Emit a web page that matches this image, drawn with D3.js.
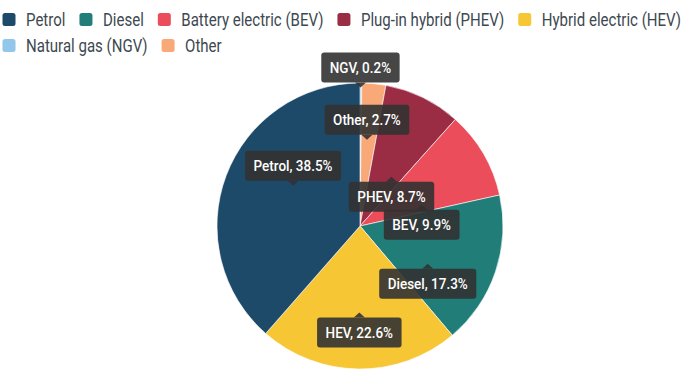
<!DOCTYPE html>
<html>
<head>
<meta charset="utf-8">
<script src="https://cdn.jsdelivr.net/npm/d3@7"></script>
<style>
  html, body { margin: 0; padding: 0; background: #fff; }
  svg { display: block; }
</style>
</head>
<body>
<svg id="chart" width="699" height="375"></svg>
<script>
// ---- data ----
const categories = ["Petrol", "Diesel", "Battery electric (BEV)", "Plug-in hybrid (PHEV)", "Hybrid electric (HEV)", "Natural gas (NGV)", "Other"];
const shortLabels = ["Petrol", "Diesel", "BEV", "PHEV", "HEV", "NGV", "Other"];
const shares = [38.5, 17.3, 9.9, 8.7, 22.6, 0.2, 2.7];
const colors = ["#1e4a6a", "#217d78", "#eb4d5a", "#9a2c44", "#f7c634", "#92c6ea", "#f9a878"];
// order of slices clockwise from 12 o'clock
const pieOrder = [5, 6, 3, 2, 1, 4, 0];
// label box placement relative to slice centroid
const labelAbove = ["Petrol", "NGV", "Other"];
const labelExtraShift = { "NGV": -52 };

const svg = d3.select("#chart");
const cx = 360, cy = 226, R = 143;
const LEGEND_SCALE = 0.835;
const LABEL_SCALE = 0.87;

// ---- legend ----
const legend = svg.append("g").attr("class", "legend");
const rows = [[0, 1, 2, 3, 4], [5, 6]];
const rowY = [19.5, 45.5];
rows.forEach((row, ri) => {
  let x = 2.5;
  row.forEach(i => {
    const g = legend.append("g");
    g.append("rect")
      .attr("x", x).attr("y", rowY[ri] - 6.5)
      .attr("width", 13).attr("height", 13)
      .attr("rx", 2.5)
      .attr("fill", colors[i]);
    const tx = x + 23.5;
    const t = g.append("text")
      .attr("transform", `translate(${tx},${rowY[ri]}) scale(${LEGEND_SCALE},1)`)
      .attr("dy", "0.36em")
      .attr("font-family", "Roboto, sans-serif")
      .attr("font-size", 18)
      .attr("fill", "#3d4850")
      .text(categories[i]);
    const w = t.node().getComputedTextLength() * LEGEND_SCALE;
    x = tx + w + 14;
  });
});

// ---- pie ----
const pieData = pieOrder.map(i => ({ idx: i, value: shares[i] }));
const pie = d3.pie().sort(null).value(d => d.value).startAngle(0).endAngle(2 * Math.PI);
const arcs = pie(pieData);
const arc = d3.arc().innerRadius(0).outerRadius(R);

const gPie = svg.append("g").attr("transform", `translate(${cx},${cy})`);
gPie.selectAll("path")
  .data(arcs)
  .join("path")
  .attr("d", arc)
  .attr("fill", d => colors[d.data.idx])
  .attr("stroke", "#fff")
  .attr("stroke-width", 0.6);

// ---- labels ----
const gLab = svg.append("g").attr("transform", `translate(${cx},${cy})`);
arcs.forEach(a => {
  const i = a.data.idx;
  const name = shortLabels[i];
  const [px, py0] = arc.centroid(a);
  const above = labelAbove.includes(name);
  const extra = labelExtraShift[name] || 0;
  const py = py0 + extra;
  const g = gLab.append("g");
  const text = `${name}, ${d3.format(".1f")(shares[i])}%`;
  const bh = 30, gap = 15, ph = 5, pw = 11;
  const boxTop = above ? py - gap - ph - bh : py + gap + ph;
  const t = g.append("text")
    .attr("font-family", "Roboto, sans-serif")
    .attr("font-size", 15.5)
    .attr("font-weight", 500)
    .attr("fill", "#fff")
    .attr("dy", "0.36em")
    .text(text);
  const tw = t.node().getComputedTextLength() * LABEL_SCALE;
  const bw = tw + 17;
  const bx = px - bw / 2;
  const tipY = above ? py - gap : py + gap;
  const baseY = above ? boxTop + bh : boxTop;
  g.insert("path", "text")
    .attr("d", `M${bx + 3},${boxTop} H${bx + bw - 3} Q${bx + bw},${boxTop} ${bx + bw},${boxTop + 3} V${boxTop + bh - 3} Q${bx + bw},${boxTop + bh} ${bx + bw - 3},${boxTop + bh} H${bx + 3} Q${bx},${boxTop + bh} ${bx},${boxTop + bh - 3} V${boxTop + 3} Q${bx},${boxTop} ${bx + 3},${boxTop} Z`)
    .attr("fill", "rgba(50,50,50,0.9)");
  g.insert("path", "text")
    .attr("d", `M${px - pw / 2},${baseY} L${px},${tipY} L${px + pw / 2},${baseY} Z`)
    .attr("fill", "rgba(50,50,50,0.9)");
  t.attr("transform", `translate(${px - tw / 2},${boxTop + bh / 2}) scale(${LABEL_SCALE},1)`);
});
</script>
</body>
</html>
